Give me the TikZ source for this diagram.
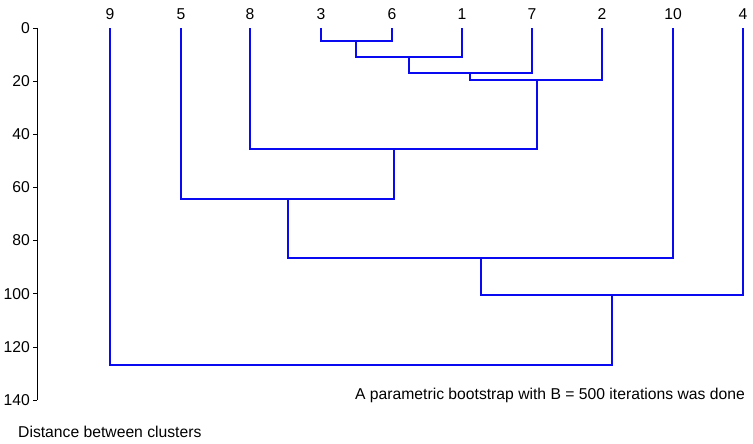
\documentclass[tikz,border=0pt]{standalone}
\usepackage{fontspec}
\setmainfont{Liberation Sans}
\definecolor{dblue}{RGB}{10,10,240}
\begin{document}
\begin{tikzpicture}[x=1pt,y=-1pt,
  br/.style={color=dblue,line width=1.1pt},
  ax/.style={draw=black,line width=0.6pt},
  lab/.style={font=\fontsize{15.7}{18}\selectfont,inner sep=0pt}]
\useasboundingbox (0,0) rectangle (753,444);
% axis
\draw[ax] (37,28) -- (37,400);
\foreach \v [count=\i from 0] in {0,20,40,60,80,100,120,140}{
  \pgfmathsetmacro{\yy}{28+\i*53.14}
  \draw[ax] (33,\yy) -- (37,\yy);
  \node[lab,anchor=east] (t\i) at (30,\yy) {\v};
}
% leaves
\foreach \n/\x in {9/110,5/181,8/250,3/321,6/392,1/462,7/532,2/602,10/673,4/743}{
  \node[lab] (l\n) at (\x,14) {\n};
  \coordinate (c\n) at (\x,28);
}
\draw[br] (c3) |- (356,41) -| (c6);
\draw[br] (356,41) -- (356,57) -| (c1);
\draw[br] (356,57) -- (409,57);
\draw[br] (409,57) -- (409,73) -| (c7);
\draw[br] (470,73) -- (470,80) -| (c2);
\draw[br] (537,80) -- (537,149) -| (c8);
\draw[br] (394,149) -- (394,199) -| (c5);
\draw[br] (288,199) -- (288,258) -| (c10);
\draw[br] (481,258) -- (481,295) -| (c4);
\draw[br] (612,295) -- (612,365) -| (c9);
\node[lab,anchor=east] (note) at (745,395) {A parametric bootstrap with B = 500 iterations was done};
\node[lab,anchor=west] (xl) at (18,432) {Distance between clusters};
\end{tikzpicture}
\end{document}
